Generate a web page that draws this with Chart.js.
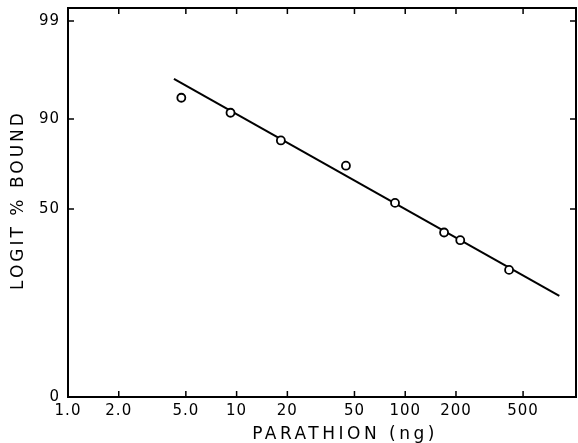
<!DOCTYPE html>
<html>
<head>
<meta charset="utf-8">
<script src="https://cdn.jsdelivr.net/npm/chart.js@4.4.1/dist/chart.umd.min.js"></script>
<style>
  html, body { margin: 0; padding: 0; background: #fff; }
  #wrap { width: 578px; height: 443px; }
</style>
</head>
<body>
<div id="wrap"><canvas id="chart" width="578" height="443"></canvas></div>
<script>
// measured points: parathion (ng) vs % bound (plotted on a logit axis)
const doseNg = [4.7, 9.2, 18.3, 44.5, 87, 170, 212, 413];
const pctBound = [93.8, 91.3, 84.2, 74.2, 53.7, 36.0, 31.8, 18.4];

// fitted line ends
const fitDose = [4.25, 820];
const fitPct = [96.0, 10.7];

const xTickValues = [1, 2, 5, 10, 20, 50, 100, 200, 500];
const xTickLabels = ['1.0', '2.0', '5.0', '10', '20', '50', '100', '200', '500'];
// bottom of the axis is labelled 0 but sits at 1 %, mirroring 99
const yTickPercents = [1, 50, 90, 99];
const yTickLabels = ['0', '50', '90', '99'];

const xTitle = 'PARATHION (ng)';
const yTitle = 'LOGIT % BOUND';

const logit = (p) => Math.log(p / (100 - p));

const FONT = 'DejaVu Sans';

// wider letter spacing like the typed originals
const spacing = {
    id: 'spacing',
    beforeDraw(chart) {
        chart.ctx.letterSpacing = '1px';
    }
};

// frame, inward tick marks on all four sides, and the axis titles
const frameTicks = {
    id: 'frameTicks',
    afterDraw(chart) {
        const ctx = chart.ctx;
        const a = chart.chartArea;
        const xs = chart.scales.x, ys = chart.scales.y;
        ctx.save();
        ctx.strokeStyle = '#000';
        ctx.lineWidth = 2;
        ctx.strokeRect(a.left, a.top, a.right - a.left, a.bottom - a.top);
        ctx.lineWidth = 1.5;
        ctx.beginPath();
        xTickValues.forEach((v) => {
            const px = xs.getPixelForValue(v);
            ctx.moveTo(px, a.bottom); ctx.lineTo(px, a.bottom - 6);
            ctx.moveTo(px, a.top); ctx.lineTo(px, a.top + 6);
        });
        yTickPercents.forEach((p) => {
            const py = ys.getPixelForValue(logit(p));
            ctx.moveTo(a.left, py); ctx.lineTo(a.left + 6, py);
            ctx.moveTo(a.right, py); ctx.lineTo(a.right - 6, py);
        });
        ctx.stroke();

        ctx.fillStyle = '#000';
        ctx.font = '17px "' + FONT + '"';
        ctx.letterSpacing = '3.5px';
        ctx.textAlign = 'center';
        ctx.textBaseline = 'middle';
        ctx.fillText(xTitle, 345, 435);
        ctx.translate(19, 200);
        ctx.rotate(-Math.PI / 2);
        ctx.letterSpacing = '3px';
        ctx.fillText(yTitle, 0, 0);
        ctx.restore();
    }
};

new Chart(document.getElementById('chart'), {
    type: 'scatter',
    data: {
        datasets: [
            {
                label: 'fit',
                data: fitDose.map((d, i) => ({ x: d, y: logit(fitPct[i]) })),
                showLine: true,
                borderColor: '#000',
                borderWidth: 2,
                pointRadius: 0,
                order: 2
            },
            {
                label: 'measured',
                data: doseNg.map((d, i) => ({ x: d, y: logit(pctBound[i]) })),
                pointStyle: 'circle',
                pointRadius: 4,
                borderColor: '#000',
                borderWidth: 1.8,
                backgroundColor: '#fff',
                order: 1
            }
        ]
    },
    options: {
        responsive: false,
        animation: false,
        layout: { autoPadding: false, padding: { top: 8, right: 2, left: 0, bottom: 0 } },
        plugins: { legend: { display: false }, tooltip: { enabled: false } },
        scales: {
            x: {
                type: 'logarithmic',
                min: 1,
                max: 1030,
                grid: { display: false, drawTicks: false },
                border: { display: false },
                afterBuildTicks: (scale) => {
                    scale.ticks = xTickValues.map((v) => ({ value: v }));
                },
                afterFit: (scale) => {
                    scale.height = 46;
                    scale.paddingLeft = 0;
                    scale.paddingRight = 0;
                },
                ticks: {
                    autoSkip: false,
                    maxRotation: 0,
                    padding: 5,
                    color: '#000',
                    font: { family: FONT, size: 15 },
                    callback: (v, i) => xTickLabels[i]
                }
            },
            y: {
                type: 'linear',
                min: logit(1),
                max: 4.91,
                grid: { display: false, drawTicks: false },
                border: { display: false },
                afterBuildTicks: (scale) => {
                    scale.ticks = yTickPercents.map((p) => ({ value: logit(p) }));
                },
                afterFit: (scale) => {
                    scale.width = 68;
                    scale.paddingTop = 0;
                    scale.paddingBottom = 0;
                },
                ticks: {
                    autoSkip: false,
                    padding: 8,
                    color: '#000',
                    font: { family: FONT, size: 15 },
                    callback: (v, i) => yTickLabels[i]
                }
            }
        }
    },
    plugins: [spacing, frameTicks]
});
</script>
</body>
</html>
